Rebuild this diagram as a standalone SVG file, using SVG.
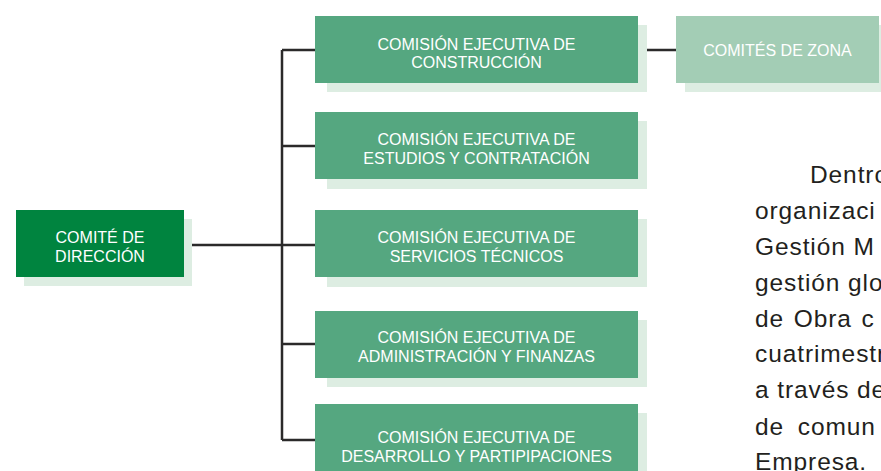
<svg xmlns="http://www.w3.org/2000/svg" width="881" height="471" viewBox="0 0 881 471">
<style>
.sh{fill:#DDEDE2}
.dir{fill:#00843F}
.com{fill:#55A780}
.zon{fill:#A3CDB5}
.lbl{font-family:"Liberation Sans",Arial,sans-serif;font-size:16px;fill:#FFFFFF;text-anchor:middle}
.ln{stroke:#2B2A2A;stroke-width:2.5;fill:none}
.para{font-family:"Liberation Sans",Arial,sans-serif;font-size:24.5px;fill:#231F20;letter-spacing:0.9px}
</style>
<rect width="881" height="471" fill="#FFFFFF"/>
<g id="connectors">
<path class="ln" d="M184 245H282M282 50V440M282 50H315M282 146H315M282 245H315M282 344H315M282 440H315M638 50H676"/>
</g>
<g id="comite-direccion">
<rect class="sh" x="24" y="219" width="168" height="67"/>
<rect class="dir" x="16" y="210" width="168" height="67"/>
<text class="lbl" x="100" y="243">COMITÉ DE</text>
<text class="lbl" x="100" y="261.5">DIRECCIÓN</text>
</g>
<g id="construccion">
<rect class="sh" x="327" y="25" width="320" height="67"/>
<rect class="com" x="315" y="16" width="323" height="67"/>
<text class="lbl" x="476.5" y="49.5">COMISIÓN EJECUTIVA DE</text>
<text class="lbl" x="476.5" y="68">CONSTRUCCIÓN</text>
</g>
<g id="estudios">
<rect class="sh" x="327" y="121" width="320" height="68"/>
<rect class="com" x="315" y="112" width="323" height="67"/>
<text class="lbl" x="476.5" y="145">COMISIÓN EJECUTIVA DE</text>
<text class="lbl" x="476.5" y="164">ESTUDIOS Y CONTRATACIÓN</text>
</g>
<g id="servicios">
<rect class="sh" x="327" y="219" width="320" height="68"/>
<rect class="com" x="315" y="210" width="323" height="67"/>
<text class="lbl" x="476.5" y="243">COMISIÓN EJECUTIVA DE</text>
<text class="lbl" x="476.5" y="262">SERVICIOS TÉCNICOS</text>
</g>
<g id="administracion">
<rect class="sh" x="327" y="320" width="320" height="67"/>
<rect class="com" x="315" y="311" width="323" height="67"/>
<text class="lbl" x="476.5" y="343">COMISIÓN EJECUTIVA DE</text>
<text class="lbl" x="476.5" y="362">ADMINISTRACIÓN Y FINANZAS</text>
</g>
<g id="desarrollo">
<rect class="sh" x="327" y="413" width="320" height="70"/>
<rect class="com" x="315" y="404" width="323" height="70"/>
<text class="lbl" x="476.5" y="443">COMISIÓN EJECUTIVA DE</text>
<text class="lbl" x="476.5" y="461.5">DESARROLLO Y PARTIPIPACIONES</text>
</g>
<g id="comites-zona">
<rect class="sh" x="685" y="25" width="200" height="67"/>
<rect class="zon" x="676" y="16" width="203" height="67"/>
<text class="lbl" x="777.5" y="56">COMITÉS DE ZONA</text>
</g>
<g id="paragraph">
<text class="para" x="810" y="183">Dentro</text>
<text class="para" x="755" y="219">organizaci</text>
<text class="para" x="755" y="255">Gestión M</text>
<text class="para" x="755" y="291">gestión glo</text>
<text class="para" x="755" y="327" word-spacing="2px">de Obra c</text>
<text class="para" x="755" y="362">cuatrimestr</text>
<text class="para" x="755" y="398">a través de</text>
<text class="para" x="755" y="435" word-spacing="6px">de comun</text>
<text class="para" x="755" y="470">Empresa.</text>
</g>
</svg>
